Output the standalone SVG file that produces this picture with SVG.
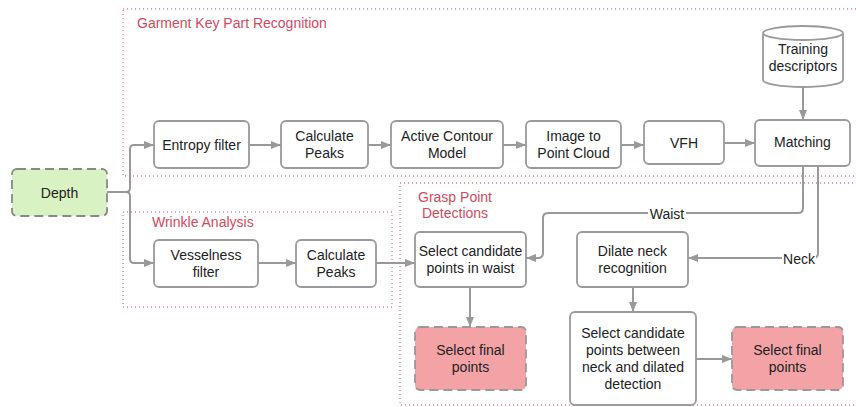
<svg xmlns="http://www.w3.org/2000/svg" width="856" height="407" viewBox="0 0 856 407">
<style>
.grp{fill:none;stroke:#e07a8c;stroke-width:1.3;stroke-dasharray:1 3}
.gl{font-family:"Liberation Sans",Arial,sans-serif;font-size:14px;fill:#d04a5e}
.box{fill:#fff;stroke:#9a9a9a;stroke-width:1.8}
.t{font-family:"Liberation Sans",Arial,sans-serif;font-size:14px;fill:#222;text-anchor:middle;dominant-baseline:central}
.ln{fill:none;stroke:#999;stroke-width:2}
.green{fill:#d9f2c3;stroke:#888;stroke-width:1.8;stroke-dasharray:9 5}
.pink{fill:#f3a3a5;stroke:#999;stroke-width:1.8;stroke-dasharray:9 5}
.lbl{font-family:"Liberation Sans",Arial,sans-serif;font-size:14px;fill:#222;text-anchor:middle;dominant-baseline:central}
</style>
<defs>
<marker id="ah" markerWidth="10" markerHeight="8" refX="10" refY="4" orient="auto" markerUnits="userSpaceOnUse">
<path d="M0,0 L10,4 L0,8 Z" fill="#999"/>
</marker>
</defs>
<rect width="856" height="407" fill="#fff"/>

<g id="groups">
<rect class="grp" x="123" y="9" width="740" height="167"/>
<text class="gl" x="137" y="28">Garment Key Part Recognition</text>
<rect class="grp" x="123" y="212" width="269" height="95"/>
<text class="gl" x="152" y="227">Wrinkle Analysis</text>
<rect class="grp" x="400" y="183" width="470" height="222"/>
<text class="gl" x="455" y="202" text-anchor="middle">Grasp Point</text>
<text class="gl" x="455" y="218" text-anchor="middle">Detections</text>
</g>

<g id="connectors">
<polyline class="ln" points="107,192 126,192"/>
<path class="ln" d="M126,192 Q130,192 130,188 L130,149 Q130,145 134,145 L154,145" marker-end="url(#ah)"/>
<path class="ln" d="M126,192 Q130,192 130,196 L130,259 Q130,263 134,263 L154,263" marker-end="url(#ah)"/>
<line class="ln" x1="249" y1="145" x2="281" y2="145" marker-end="url(#ah)"/>
<line class="ln" x1="368" y1="145" x2="391" y2="145" marker-end="url(#ah)"/>
<line class="ln" x1="503" y1="145" x2="526" y2="145" marker-end="url(#ah)"/>
<line class="ln" x1="621" y1="145" x2="644" y2="145" marker-end="url(#ah)"/>
<line class="ln" x1="724" y1="143" x2="755" y2="143" marker-end="url(#ah)"/>
<line class="ln" x1="803" y1="87" x2="803" y2="120" marker-end="url(#ah)"/>
<line class="ln" x1="258" y1="263" x2="296" y2="263" marker-end="url(#ah)"/>
<line class="ln" x1="376" y1="263" x2="415" y2="263" marker-end="url(#ah)"/>
<path class="ln" d="M803,166 L803,208 Q803,213 798,213 L548,213 Q543,213 543,218 L543,253 Q543,258 538,258 L526,258" marker-end="url(#ah)"/>
<path class="ln" d="M818,166 L818,253 Q818,258 813,258 L688,258" marker-end="url(#ah)"/>
<line class="ln" x1="470" y1="287" x2="470" y2="327" marker-end="url(#ah)"/>
<line class="ln" x1="633" y1="287" x2="633" y2="312" marker-end="url(#ah)"/>
<line class="ln" x1="696" y1="359" x2="732" y2="359" marker-end="url(#ah)"/>
<rect x="648" y="206" width="38" height="15" fill="#fff"/>
<text class="lbl" x="667" y="214">Waist</text>
<rect x="782" y="251" width="34" height="15" fill="#fff"/>
<text class="lbl" x="799" y="259">Neck</text>
</g>

<g id="depth">
<rect class="green" x="12" y="169" width="95" height="47" rx="5"/>
<text class="t" x="59.5" y="192.5">Depth</text>
</g>
<g id="entropy">
<rect class="box" x="154" y="121" width="95" height="47" rx="5"/>
<text class="t" x="201.5" y="144.5">Entropy filter</text>
</g>
<g id="peaks1">
<rect class="box" x="281" y="121" width="87" height="47" rx="5"/>
<text class="t" x="324.5" y="136">Calculate</text>
<text class="t" x="324.5" y="153">Peaks</text>
</g>
<g id="contour">
<rect class="box" x="391" y="121" width="112" height="47" rx="5"/>
<text class="t" x="447" y="136">Active Contour</text>
<text class="t" x="447" y="153">Model</text>
</g>
<g id="pointcloud">
<rect class="box" x="526" y="121" width="95" height="47" rx="5"/>
<text class="t" x="573.5" y="136">Image to</text>
<text class="t" x="573.5" y="153">Point Cloud</text>
</g>
<g id="vfh">
<rect class="box" x="644" y="121" width="80" height="43" rx="5"/>
<text class="t" x="684" y="142.5">VFH</text>
</g>
<g id="matching">
<rect class="box" x="755" y="120" width="95" height="46" rx="5"/>
<text class="t" x="802.5" y="142">Matching</text>
</g>
<g id="training">
<path class="box" d="M763,34 L763,80 A40,7 0 0 0 843,80 L843,34"/>
<ellipse class="box" cx="803" cy="33" rx="40" ry="7"/>
<text class="t" x="803" y="49">Training</text>
<text class="t" x="803" y="66">descriptors</text>
</g>
<g id="vesselness">
<rect class="box" x="154" y="240" width="104" height="47" rx="5"/>
<text class="t" x="206" y="254.5">Vesselness</text>
<text class="t" x="206" y="271.5">filter</text>
</g>
<g id="peaks2">
<rect class="box" x="296" y="240" width="80" height="47" rx="5"/>
<text class="t" x="336" y="254.5">Calculate</text>
<text class="t" x="336" y="271.5">Peaks</text>
</g>
<g id="waistcand">
<rect class="box" x="415" y="232" width="111" height="55" rx="5"/>
<text class="t" x="470.5" y="250.5">Select candidate</text>
<text class="t" x="470.5" y="267.5">points in waist</text>
</g>
<g id="final1">
<rect class="pink" x="415" y="327" width="111" height="63" rx="5"/>
<text class="t" x="470.5" y="350">Select final</text>
<text class="t" x="470.5" y="367">points</text>
</g>
<g id="dilate">
<rect class="box" x="577" y="232" width="111" height="55" rx="5"/>
<text class="t" x="632.5" y="250.5">Dilate neck</text>
<text class="t" x="632.5" y="267.5">recognition</text>
</g>
<g id="neckcand">
<rect class="box" x="570" y="312" width="126" height="93" rx="5"/>
<text class="t" x="633" y="333">Select candidate</text>
<text class="t" x="633" y="350">points between</text>
<text class="t" x="633" y="367">neck and dilated</text>
<text class="t" x="633" y="384">detection</text>
</g>
<g id="final2">
<rect class="pink" x="732" y="327" width="111" height="63" rx="5"/>
<text class="t" x="787.5" y="350">Select final</text>
<text class="t" x="787.5" y="367">points</text>
</g>
</svg>
